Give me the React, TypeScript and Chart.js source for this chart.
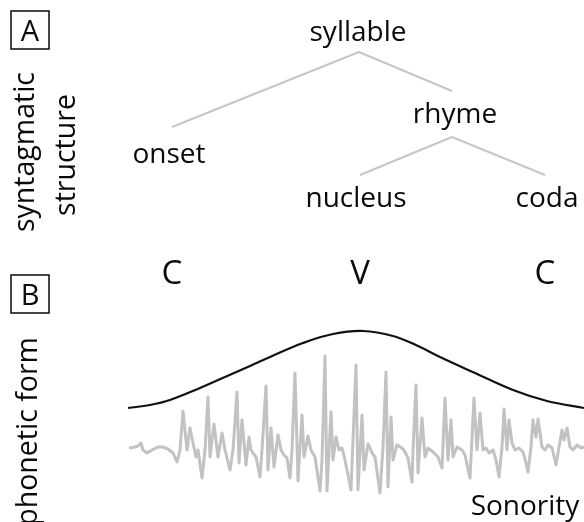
import React, { useEffect, useRef } from "react";
import { Chart, registerables } from "chart.js";

Chart.register(...registerables);

// Waveform (time in samples from onset start, amplitude in arbitrary units)
const waveTime = [1, 7, 10, 13, 15, 19, 24, 30, 35, 40, 45, 49, 52, 55, 59, 62, 65, 68, 70, 74, 77, 80, 82, 86, 90, 94, 97, 102, 105, 109, 111, 114, 118, 121, 123, 125, 128, 132, 134, 138, 140, 143, 146, 150, 153, 156, 159, 162, 164, 167, 170, 174, 176, 180, 183, 187, 192, 194, 197, 199, 203, 205, 208, 211, 214, 217, 223, 228, 230, 234, 236, 240, 242, 244, 247, 252, 255, 258, 260, 263, 265, 269, 274, 277, 280, 284, 285, 288, 290, 294, 297, 300, 305, 310, 314, 317, 320, 323, 325, 329, 334, 337, 342, 346, 349, 352, 355, 358, 361, 365, 368, 371, 374, 376, 379, 381, 384, 387, 391, 395, 398, 400, 403, 405, 408, 410, 414, 417, 420, 424, 428, 431, 434, 436, 439, 442, 445, 449, 453, 456];
const waveAmp = [2, 3, 4, 7, 0, -3, 0, 3, 3, 1, -3, -12, 0, 39, 0, 22, 7, -7, 0, -28, 0, 53, -7, 26, -7, 17, 0, -20, 0, 58, -13, 30, -15, 13, 0, -3, -7, -27, 0, 64, -20, 22, -17, 15, 0, -5, -8, -28, 0, 77, -31, 35, -7, 14, 0, -7, -41, -10, 94, -41, 38, -10, 13, 0, 2, -10, -40, 85, -40, 35, -20, 6, 2, -3, -7, -43, 3, 78, -37, 33, -10, 5, 2, -2, -8, -32, 0, 65, -23, 32, -7, 2, -2, -7, -18, 52, -10, 30, -7, 3, 0, -5, -28, 52, 0, 37, 0, 2, -3, 0, -10, -27, 3, 41, 0, 30, 7, 0, 2, -2, -13, -22, 3, 30, 13, 31, 3, 0, 5, 2, -15, 3, 20, 10, 22, 3, 0, 5, 2, 3];

// Sonority envelope
const envTime = [0, 22, 42, 72, 97, 122, 142, 175, 205, 235, 265, 290, 312, 347, 385, 419, 456];
const envAmp = [42, 45, 50, 62, 73, 84, 93, 107, 116, 119, 114, 104, 93, 77, 60, 49, 42];

// Syntagmatic tree (diagram units)
const treeNodes = ["syllable", "onset", "rhyme", "nucleus", "coda"];
const treeEdgeFrom = [[359, 52], [359, 52], [452, 137], [452, 137]];
const treeEdgeTo = [[172, 127], [452, 91], [360, 175], [545, 175]];

const segmentLabels = ["C", "V", "C"];

const FONT = "'Open Sans', 'Noto Sans', sans-serif";

const textPlugin = {
  id: "diagramText",
  afterDatasetsDraw(chart: any) {
    const ctx = chart.ctx as CanvasRenderingContext2D;
    ctx.save();
    ctx.fillStyle = "#0a0a0a";
    ctx.strokeStyle = "#0a0a0a";
    ctx.textBaseline = "alphabetic";

    // panel boxes
    ctx.lineWidth = 1.5;
    ctx.strokeRect(11, 11, 38, 38);
    ctx.strokeRect(11, 275, 38, 38);
    ctx.font = `29px ${FONT}`;
    ctx.textAlign = "center";
    ctx.fillText("A", 30, 41);
    ctx.fillText("B", 30, 305);

    // tree labels
    const nodePos: Record<string, [number, number]> = {
      syllable: [358, 41],
      rhyme: [455, 123],
      onset: [169, 163],
      nucleus: [356, 207],
      coda: [547, 207],
    };
    ctx.font = `28px ${FONT}`;
    treeNodes.forEach((n) => {
      const p = nodePos[n];
      ctx.fillText(n, p[0], p[1]);
    });

    // segment labels
    ctx.font = `33px ${FONT}`;
    const segX = [172, 360, 545];
    segmentLabels.forEach((s, i) => ctx.fillText(s, segX[i], 284));

    // Sonority
    ctx.font = `28px ${FONT}`;
    ctx.fillText("Sonority", 525, 515);

    // rotated labels
    const rot = (t: string, x: number, y: number, align: CanvasTextAlign) => {
      ctx.save();
      ctx.translate(x, y);
      ctx.rotate(-Math.PI / 2);
      ctx.textAlign = align;
      ctx.fillText(t, 0, 0);
      ctx.restore();
    };
    ctx.font = `28.5px ${FONT}`;
    rot("syntagmatic", 34, 152, "center");
    rot("structure", 75, 155, "center");
    rot("phonetic form", 37, 337, "right");
    ctx.restore();
  },
};

export default function App() {
  const ref = useRef<HTMLCanvasElement>(null);
  useEffect(() => {
    if (!ref.current) return;
    const treeSets = treeEdgeFrom.map((f, i) => ({
      type: "line" as const,
      data: [
        { x: f[0], y: f[1] },
        { x: treeEdgeTo[i][0], y: treeEdgeTo[i][1] },
      ],
      xAxisID: "xT",
      yAxisID: "yT",
      borderColor: "#c6c6c6",
      borderWidth: 2,
      pointRadius: 0,
      tension: 0,
    }));
    const chart = new Chart(ref.current, {
      type: "line",
      data: {
        datasets: [
          ...treeSets,
          {
            data: waveTime.map((t, i) => ({ x: t, y: waveAmp[i] })),
            xAxisID: "x",
            yAxisID: "y",
            borderColor: "#c2c2c2",
            borderWidth: 3,
            pointRadius: 0,
            tension: 0,
            borderJoinStyle: "round",
          },
          {
            data: envTime.map((t, i) => ({ x: t, y: envAmp[i] })),
            xAxisID: "x",
            yAxisID: "y",
            borderColor: "#111",
            borderWidth: 2.2,
            pointRadius: 0,
            tension: 0.4,
          },
        ],
      },
      options: {
        animation: false,
        responsive: false,
        maintainAspectRatio: false,
        layout: { padding: 0 },
        plugins: { legend: { display: false }, tooltip: { enabled: false } },
        scales: {
          x: { type: "linear", min: -128, max: 456, display: false },
          y: { type: "linear", min: -72, max: 450, display: false },
          xT: { type: "linear", min: 0, max: 584, display: false },
          yT: { type: "linear", min: 0, max: 522, reverse: true, display: false },
        },
      },
      plugins: [textPlugin],
    });
    return () => chart.destroy();
  }, []);
  return (
    <div style={{ position: "fixed", left: 0, top: 0, width: 584, height: 522, background: "#fff" }}>
      <canvas ref={ref} width={584} height={522} style={{ width: 584, height: 522 }} />
    </div>
  );
}
